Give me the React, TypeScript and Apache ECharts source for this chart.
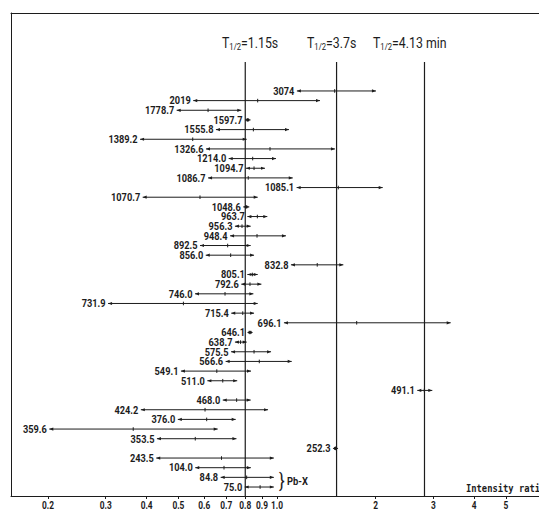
import React, { useEffect, useRef } from "react";
import * as echarts from "echarts";

// Gamma-line energies (keV), top to bottom
const energies = [
  "3074", "2019", "1778.7", "1597.7", "1555.8", "1389.2", "1326.6", "1214.0", "1094.7", "1086.7",
  "1085.1", "1070.7", "1048.6", "963.7", "956.3", "948.4", "892.5", "856.0", "832.8", "805.1",
  "792.6", "746.0", "731.9", "715.4", "696.1", "646.1", "638.7", "575.5", "566.6", "549.1",
  "511.0", "491.1", "468.0", "424.2", "376.0", "359.6", "353.5", "252.3", "243.5", "104.0",
  "84.8", "75.0",
];
// Intensity ratio: lower end, central value, upper end
const lowRatios = [
  1.15, 0.555, 0.494, 0.799, 0.651, 0.382, 0.607, 0.712, 0.804, 0.616,
  1.148, 0.389, 0.789, 0.812, 0.744, 0.719, 0.582, 0.606, 1.103, 0.812,
  0.778, 0.562, 0.305, 0.725, 1.05, 0.813, 0.744, 0.724, 0.697, 0.509,
  0.613, 2.681, 0.683, 0.384, 0.498, 0.2018, 0.43, 1.482, 0.428, 0.563,
  0.673, 0.797,
];
const centerRatios = [
  1.5, 0.873, 0.616, 0.814, 0.847, 0.553, 0.952, 0.843, 0.851, 0.817,
  1.539, 0.582, 0.804, 0.871, 0.782, 0.869, 0.707, 0.722, 1.327, 0.841,
  0.827, 0.694, 0.518, 0.786, 1.751, 0.827, 0.774, 0.851, 0.883, 0.655,
  0.683, 2.816, 0.753, 0.603, 0.61, 0.364, 0.563, 1.509, 0.677, 0.689,
  0.808, 0.888,
];
const highRatios = [
  2.005, 1.353, 0.778, 0.83, 1.088, 0.808, 1.503, 0.993, 0.919, 1.117,
  2.102, 0.873, 0.823, 0.934, 0.831, 1.065, 0.831, 0.851, 1.594, 0.873,
  0.896, 0.847, 0.873, 0.851, 3.39, 0.842, 0.808, 0.959, 1.109, 0.833,
  0.756, 2.979, 0.831, 0.939, 0.748, 0.659, 0.752, 1.536, 0.978, 0.832,
  0.978, 0.978,
];
// Expected ratios for the three half-lives
const halfLifeRatios = [0.8, 1.52, 2.82];
const halfLifeLabels = ["1.15s", "3.7s", "4.13 min"];
// Axis ticks
const tickValues = [0.2, 0.3, 0.4, 0.5, 0.6, 0.7, 0.8, 0.9, 1.0, 2, 3, 4, 5];
const tickLabels = ["0.2", "0.3", "0.4", "0.5", "0.6", "0.7", "0.8", "0.9", "1.0", "2", "3", "4", "5"];

const X_MIN = -0.812; // log10 of left edge ratio
const X_MAX = 0.7998; // log10 of right edge ratio
const Y_MIN = -8.07;
const Y_MAX = 41.93;
const LINE_TOP_ROW = -3.0;

const INK = "#1c1c1c";
const FONT = "Roboto, 'Liberation Sans', sans-serif";

export default function App() {
  const ref = useRef<HTMLDivElement>(null);
  useEffect(() => {
    if (!ref.current) return;
    const chart = echarts.init(ref.current, undefined, { renderer: "svg" });
    const rows = energies.map((_, i) => [
      i,
      Math.log10(lowRatios[i]),
      Math.log10(centerRatios[i]),
      Math.log10(highRatios[i]),
    ]);
    const logTicks = tickValues.map((t) => Math.log10(t));
    const option: any = {
      animation: false,
      backgroundColor: "#ffffff",
      grid: { left: 11, right: 0, top: 13, bottom: 16 },
      xAxis: [
        {
          type: "value",
          min: X_MIN,
          max: X_MAX,
          axisLine: { show: true, onZero: false, lineStyle: { color: INK, width: 1 } },
          axisTick: { show: true, length: 3, customValues: logTicks, lineStyle: { color: INK } },
          axisLabel: { show: false },
          splitLine: { show: false },
        },
        {
          type: "value",
          position: "top",
          min: X_MIN,
          max: X_MAX,
          axisLine: { show: true, onZero: false, lineStyle: { color: INK, width: 1 } },
          axisTick: { show: false },
          axisLabel: { show: false },
          splitLine: { show: false },
        },
      ],
      yAxis: {
        type: "value",
        inverse: true,
        min: Y_MIN,
        max: Y_MAX,
        axisLine: { show: true, onZero: false, lineStyle: { color: INK, width: 1 } },
        axisTick: { show: false },
        axisLabel: { show: false },
        splitLine: { show: false },
      },
      graphic: [
        ...halfLifeLabels.map((lab, k) => ({
          type: "text",
          x: [222, 307, 373][k],
          y: 43,
          scaleX: 0.85,
          style: {
            text: `{t|T}{s|1/2}{t|=${lab}}`,
            x: 0,
            y: 0,
            align: "left",
            verticalAlign: "middle",
            rich: {
              t: { fontSize: 14.5, fontFamily: FONT, fill: INK, color: INK, lineHeight: 18 },
              s: { fontSize: 9, fontFamily: FONT, fill: INK, color: INK, lineHeight: 18, padding: [8, 0, 0, 0] },
            },
          },
        })),
        {
          type: "text",
          x: 279,
          y: 481,
          scaleX: 0.8,
          style: { text: "}", x: 0, y: 0, verticalAlign: "middle", font: `21px ${FONT}`, fill: INK },
        },
        {
          type: "text",
          x: 287,
          y: 481,
          scaleX: 0.85,
          style: { text: "Pb-X", x: 0, y: 0, verticalAlign: "middle", font: `bold 11px ${FONT}`, fill: INK },
        },
        {
          type: "text",
          x: 466,
          y: 488,
          scaleX: 0.88,
          style: {
            text: "Intensity ratio",
            x: 0,
            y: 0,
            verticalAlign: "middle",
            font: `bold 10px 'DejaVu Sans Mono', monospace`,
            fill: INK,
          },
        },
      ],
      series: [
        {
          type: "custom",
          xAxisIndex: 0,
          data: halfLifeRatios.map((r) => [Math.log10(r)]),
          encode: { x: 0 },
          renderItem: (params: any, api: any) => {
            const v = api.value(0);
            const p1 = api.coord([v, LINE_TOP_ROW]);
            const p2 = api.coord([v, Y_MAX]);
            return {
              type: "line",
              shape: { x1: p1[0], y1: p1[1], x2: p2[0], y2: p2[1] },
              style: { stroke: INK, lineWidth: 1.2 },
            };
          },
        },
        {
          type: "custom",
          xAxisIndex: 0,
          clip: false,
          data: logTicks.map((v) => [v]),
          encode: { x: 0 },
          renderItem: (params: any, api: any) => {
            const p = api.coord([api.value(0), Y_MAX]);
            return {
              type: "text",
              x: p[0],
              y: p[1] + 9,
              scaleX: 0.76,
              style: {
                text: tickLabels[params.dataIndex],
                x: 0,
                y: 0,
                align: "center",
                verticalAlign: "middle",
                font: `bold 11px ${FONT}`,
                fill: INK,
              },
            };
          },
        },
        {
          type: "custom",
          xAxisIndex: 0,
          data: rows,
          encode: { x: [1, 2, 3], y: 0 },
          renderItem: (params: any, api: any) => {
            const idx = params.dataIndex;
            const y = api.value(0);
            const lo = api.coord([api.value(1), y]);
            const c = api.coord([api.value(2), y]);
            const hi = api.coord([api.value(3), y]);
            const ah = 4;
            return {
              type: "group",
              children: [
                {
                  type: "line",
                  shape: { x1: lo[0], y1: lo[1], x2: hi[0], y2: hi[1] },
                  style: { stroke: INK, lineWidth: 1 },
                },
                {
                  type: "polygon",
                  shape: { points: [[lo[0], lo[1]], [lo[0] + ah, lo[1] - 1.6], [lo[0] + ah, lo[1] + 1.6]] },
                  style: { fill: INK },
                },
                {
                  type: "polygon",
                  shape: { points: [[hi[0], hi[1]], [hi[0] - ah, hi[1] - 1.6], [hi[0] - ah, hi[1] + 1.6]] },
                  style: { fill: INK },
                },
                {
                  type: "line",
                  shape: { x1: c[0], y1: c[1] - 1.8, x2: c[0], y2: c[1] + 1.8 },
                  style: { stroke: INK, lineWidth: 1 },
                },
                {
                  type: "text",
                  x: lo[0] - 2.5,
                  y: lo[1],
                  scaleX: 0.84,
                  style: {
                    text: energies[idx],
                    x: 0,
                    y: 0,
                    align: "right",
                    verticalAlign: "middle",
                    font: `bold 11px ${FONT}`,
                    fill: INK,
                  },
                },
              ],
            };
          },
        },
      ],
    };
    chart.setOption(option);
    return () => chart.dispose();
  }, []);
  return (
    <div
      ref={ref}
      style={{ position: "fixed", left: 0, top: 0, width: 539, height: 512, background: "#fff" }}
    />
  );
}
